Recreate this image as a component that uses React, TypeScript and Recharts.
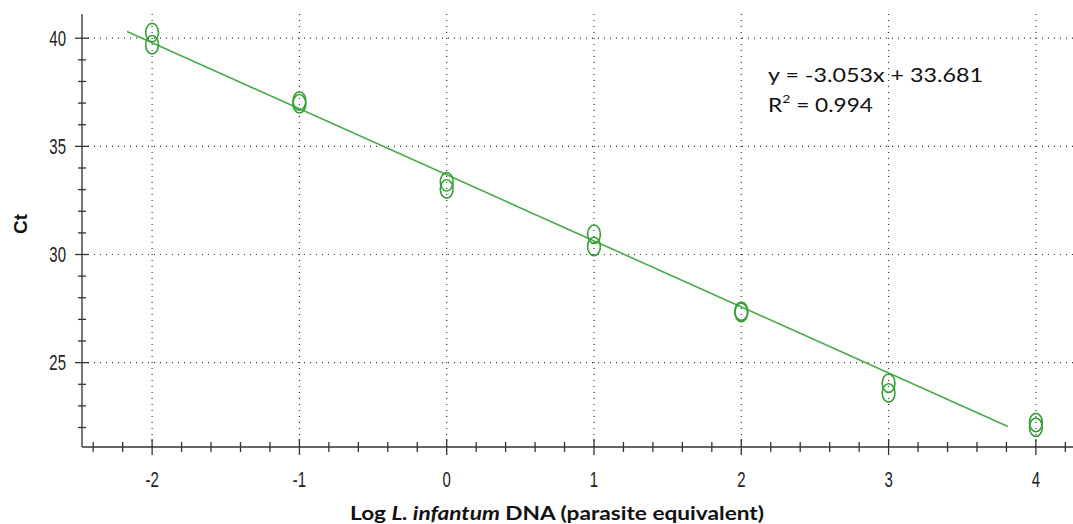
import React from "react";
import {
  ScatterChart,
  Scatter,
  XAxis,
  YAxis,
  ReferenceLine,
  Customized,
} from "recharts";

// ---- data ----
const logConcentration = [-2, -2, -1, -1, 0, 0, 1, 1, 2, 2, 3, 3, 4, 4];
const ctValues = [40.26, 39.7, 37.1, 36.97, 33.36, 33.03, 30.94, 30.37, 27.38, 27.32, 24.05, 23.6, 22.23, 22.01];

// regression line end points (y = -3.053x + 33.681)
const fitX = [-2.17, 3.81];
const fitY = [40.31, 22.05];

// ticks
const xMajorTicks = [-2, -1, 0, 1, 2, 3, 4];
const xAllTicks = [
  -2.4, -2.2, -2, -1.8, -1.6, -1.4, -1.2, -1, -0.8, -0.6, -0.4, -0.2, 0, 0.2, 0.4, 0.6, 0.8, 1,
  1.2, 1.4, 1.6, 1.8, 2, 2.2, 2.4, 2.6, 2.8, 3, 3.2, 3.4, 3.6, 3.8, 4, 4.2,
];
const yMajorTicks = [25, 30, 35, 40];
const yAllTicks = [22, 23, 24, 25, 26, 27, 28, 29, 30, 31, 32, 33, 34, 35, 36, 37, 38, 39, 40];

const equationText = "y = -3.053x + 33.681";
const r2Value = "0.994";
const xTitlePre = "Log ";
const xTitleItalic = "L. infantum";
const xTitlePost = " DNA (parasite equivalent)";
const yTitle = "Ct";

const points = logConcentration.map((x, i) => ({ x, y: ctValues[i] }));
const fitLine = fitX.map((x, i) => ({ x, y: fitY[i] }));

const AXIS = "#333";
const GREEN_LINE = "#47ab47";
const GREEN_MARK = "#35a035";

const isMajor = (v: number, majors: number[]) =>
  majors.some((m) => Math.abs(m - v) < 1e-6);

const BottomTick = (props: any) => {
  const { x, y, payload } = props;
  const v = payload.value;
  const major = isMajor(v, xMajorTicks);
  const len = major ? 8 : 5;
  return (
    <g>
      <line x1={x} x2={x} y1={y - len} y2={y + len} stroke={AXIS} strokeWidth={1.3} />
      {major && (
        <text
          transform={`translate(${x},${y + 40}) scale(0.68,1)`}
          textAnchor="middle"
          fontSize={22}
          fontFamily="'Liberation Sans', Arial, sans-serif"
          fill="#222"
        >
          {String(Math.round(v))}
        </text>
      )}
    </g>
  );
};

const TopTick = (props: any) => {
  const { x, y, payload } = props;
  const major = isMajor(payload.value, xMajorTicks);
  const len = major ? 7 : 4.5;
  return <line x1={x} x2={x} y1={y} y2={y + len} stroke={AXIS} strokeWidth={1.3} />;
};

const LeftTick = (props: any) => {
  const { x, y, payload } = props;
  const v = payload.value;
  const major = isMajor(v, yMajorTicks);
  const len = major ? 7 : 4;
  return (
    <g>
      <line x1={x - len} x2={x + len} y1={y} y2={y} stroke={AXIS} strokeWidth={1.3} />
      {major && (
        <text
          transform={`translate(${x - 16},${y + 7.5}) scale(0.68,1)`}
          textAnchor="end"
          fontSize={22}
          fontFamily="'Liberation Sans', Arial, sans-serif"
          fill="#222"
        >
          {String(v)}
        </text>
      )}
    </g>
  );
};

const EllipseMarker = (props: any) => {
  const { cx, cy } = props;
  return (
    <ellipse cx={cx} cy={cy} rx={6.4} ry={9.2} fill="none" stroke={GREEN_MARK} strokeWidth={1.6} />
  );
};

const NoShape = () => <g />;

const Annotations = () => (
  <g>
    <text
      x={768}
      y={81.7}
      fontSize={18.6}
      fontFamily="Lato, 'Open Sans', sans-serif"
      fill="#111"
      textLength={215}
      lengthAdjust="spacingAndGlyphs"
    >
      {equationText}
    </text>
    <text
      x={768}
      y={112.3}
      fontSize={18.6}
      fontFamily="Lato, 'Open Sans', sans-serif"
      fill="#111"
      textLength={105}
      lengthAdjust="spacingAndGlyphs"
    >
      R
      <tspan fontSize={11.5} dy={-9}>2</tspan>
      <tspan dy={9}>{" = " + r2Value}</tspan>
    </text>
    <text
      x={350}
      y={520}
      fontSize={19.5}
      fontWeight="bold"
      fontFamily="Lato, 'Open Sans', sans-serif"
      fill="#111"
      textLength={414}
      lengthAdjust="spacingAndGlyphs"
    >
      {xTitlePre}
      <tspan fontStyle="italic">{xTitleItalic}</tspan>
      {xTitlePost}
    </text>
    <text
      x={27}
      y={224}
      transform="rotate(-90, 27, 224)"
      textAnchor="middle"
      fontSize={19}
      fontWeight="bold"
      fontFamily="'Liberation Sans', Arial, sans-serif"
      fill="#111"
    >
      {yTitle}
    </text>
  </g>
);

export default function App() {
  return (
    <div style={{ position: "absolute", left: 0, top: 0, width: 1073, height: 524, background: "#fff" }}>
      <ScatterChart width={1073} height={524} margin={{ top: 14, right: 0, left: 0, bottom: 0 }}>
        <XAxis
          xAxisId={0}
          type="number"
          dataKey="x"
          domain={[-2.476, 4.252]}
          allowDataOverflow
          ticks={xAllTicks}
          interval={0}
          tickSize={0}
          tickMargin={0}
          tickLine={false}
          axisLine={{ stroke: AXIS, strokeWidth: 1.6 }}
          tick={<BottomTick />}
          height={77}
        />
        <XAxis
          xAxisId="top"
          orientation="top"
          type="number"
          dataKey="x"
          domain={[-2.476, 4.252]}
          allowDataOverflow
          ticks={xAllTicks}
          interval={0}
          tickSize={0}
          tickMargin={0}
          tickLine={false}
          axisLine={{ stroke: AXIS, strokeWidth: 1.6 }}
          tick={<TopTick />}
          height={0}
        />
        <YAxis
          type="number"
          dataKey="y"
          domain={[21.1, 41.12]}
          allowDataOverflow
          ticks={yAllTicks}
          interval={0}
          tickSize={0}
          tickMargin={0}
          tickLine={false}
          axisLine={{ stroke: "#555", strokeWidth: 1.6 }}
          tick={<LeftTick />}
          width={82}
        />
        {yMajorTicks.map((v) => (
          <ReferenceLine key={"h" + v} y={v} stroke="#333" strokeWidth={1.2} strokeDasharray="1 5" />
        ))}
        {xMajorTicks.map((v) => (
          <ReferenceLine key={"v" + v} x={v} stroke="#333" strokeWidth={1.2} strokeDasharray="1 5" />
        ))}
        <Scatter
          data={fitLine}
          line={{ stroke: GREEN_LINE, strokeWidth: 1.6 }}
          shape={<NoShape />}
          isAnimationActive={false}
        />
        <Scatter data={points} shape={<EllipseMarker />} isAnimationActive={false} />
        <Customized component={Annotations} />
      </ScatterChart>
    </div>
  );
}
